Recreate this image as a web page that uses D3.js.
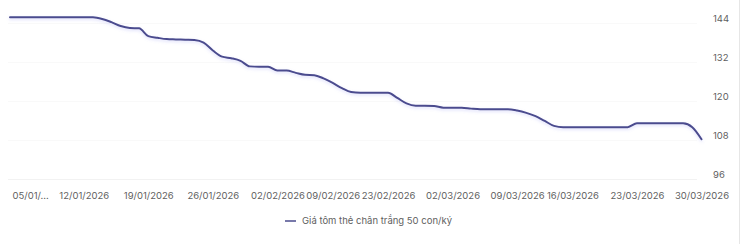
<!DOCTYPE html>
<html>
<head>
<meta charset="utf-8">
<script src="https://cdn.jsdelivr.net/npm/d3@7/dist/d3.min.js"></script>
<style>
  html, body { margin: 0; padding: 0; background: #ffffff; }
  svg { display: block; font-family: Inter, "Noto Sans", sans-serif; }
</style>
</head>
<body>
<svg id="chart" width="743" height="244"></svg>
<script>
// ---- data ----
const dates = [
  "04/01/2026",
  "05/01/2026","06/01/2026","07/01/2026","08/01/2026","09/01/2026","10/01/2026","11/01/2026",
  "12/01/2026","13/01/2026","14/01/2026","15/01/2026","16/01/2026","17/01/2026","18/01/2026",
  "19/01/2026","20/01/2026","21/01/2026","22/01/2026","23/01/2026","24/01/2026","25/01/2026",
  "26/01/2026","27/01/2026","28/01/2026","29/01/2026","30/01/2026","31/01/2026","01/02/2026",
  "02/02/2026","03/02/2026","04/02/2026","05/02/2026","06/02/2026","07/02/2026",
  "09/02/2026","10/02/2026","11/02/2026","12/02/2026","13/02/2026","14/02/2026",
  "23/02/2026","24/02/2026","25/02/2026","26/02/2026","27/02/2026","28/02/2026","01/03/2026",
  "02/03/2026","03/03/2026","04/03/2026","05/03/2026","06/03/2026","07/03/2026","08/03/2026",
  "09/03/2026","10/03/2026","11/03/2026","12/03/2026","13/03/2026","14/03/2026",
  "16/03/2026","17/03/2026","18/03/2026","19/03/2026","20/03/2026","21/03/2026","22/03/2026",
  "23/03/2026","24/03/2026","25/03/2026","26/03/2026","27/03/2026","28/03/2026","29/03/2026",
  "30/03/2026"
];
const prices = [
  145.6,
  145.6,145.6,145.6,145.6,145.6,145.6,145.6,
  145.6,145.6,145.1,144.1,142.9,142.3,142.2,
  139.8,139.3,138.9,138.8,138.7,138.6,137.8,
  135.4,133.5,133.0,132.2,130.5,130.4,130.4,
  129.2,129.2,128.5,127.9,127.8,126.8,
  125.4,123.8,122.6,122.4,122.4,122.4,
  122.4,120.8,119.1,118.4,118.4,118.3,117.8,
  117.8,117.8,117.5,117.3,117.3,117.3,117.3,
  116.9,116.2,115.2,113.7,112.2,111.8,
  111.8,111.8,111.8,111.8,111.8,111.8,111.8,
  113.0,113.0,113.0,113.0,113.0,113.0,111.8,
  108.1
];
const tickDates = ["05/01/2026","12/01/2026","19/01/2026","26/01/2026","02/02/2026","09/02/2026",
  "23/02/2026","02/03/2026","09/03/2026","16/03/2026","23/03/2026","30/03/2026"];
const yTicks = [96, 108, 120, 132, 144];
const seriesName = "Giá tôm thẻ chân trắng 50 con/ký";

// ---- layout ----
const W = 743, H = 244;
const plot = { left: 10, right: 701.5, top: 22.5, bottom: 178.5 };
const lineColor = "#4b4c8e";
const textColor = "#5f5f5f";

const svg = d3.select("#chart");

const x = d3.scalePoint().domain(dates).range([plot.left, plot.right]);
const y = d3.scaleLinear().domain([96, 144]).range([plot.bottom, plot.top]);

// right border
svg.append("line")
  .attr("x1", 739.5).attr("x2", 739.5).attr("y1", 0).attr("y2", H)
  .attr("stroke", "#e6e6e6").attr("stroke-width", 1);

// gridlines
svg.append("g").selectAll("line").data(yTicks).join("line")
  .attr("x1", 8).attr("x2", 697)
  .attr("y1", d => Math.round(y(d)) + 0.5).attr("y2", d => Math.round(y(d)) + 0.5)
  .attr("stroke", d => d === 96 ? "#f2f2f2" : "#f9f9f9")
  .attr("stroke-width", 1);

// y-axis labels (right)
const yAxis = d3.axisRight(y).tickValues(yTicks).tickSize(0).tickPadding(0).tickFormat(d3.format("d"));
const gy = svg.append("g").attr("transform", "translate(713,0)").call(yAxis);
gy.select(".domain").remove();
gy.selectAll("text")
  .attr("fill", textColor).attr("font-size", 9.5)
  .attr("x", 0).attr("dy", null).attr("y", -4)
  .attr("dominant-baseline", "middle")
  .attr("font-family", "Inter, 'Noto Sans', sans-serif");

// x-axis labels
const xAxis = d3.axisBottom(x).tickValues(tickDates).tickSize(0).tickPadding(0);
const gx = svg.append("g").attr("transform", "translate(0,196)").call(xAxis);
gx.select(".domain").remove();
gx.selectAll("text")
  .attr("fill", textColor).attr("font-size", 9.5)
  .attr("dy", null).attr("y", 0)
  .attr("dominant-baseline", "middle")
  .attr("font-family", "Inter, 'Noto Sans', sans-serif");
// first label overflows left edge: truncate and keep inside
gx.selectAll(".tick").each(function(d, i) {
  if (i === 0) {
    const t = d3.select(this).select("text");
    t.text(d.slice(0, 6) + "...");
    const w = t.node().getComputedTextLength();
    const px = x(d);
    if (px - w / 2 < 12) {
      t.attr("text-anchor", "start").attr("x", 12 - px);
    }
  }
});

// line
const defs = svg.append("defs");
const f = defs.append("filter").attr("id", "glow").attr("x", "-5%").attr("y", "-20%").attr("width", "110%").attr("height", "140%");
f.append("feDropShadow").attr("dx", 0).attr("dy", 1.5).attr("stdDeviation", 1.5)
  .attr("flood-color", "#8c8ff0").attr("flood-opacity", 0.3);

const line = d3.line()
  .x((d, i) => x(dates[i]))
  .y(d => y(d))
  .curve(d3.curveMonotoneX);

svg.append("path")
  .datum(prices)
  .attr("d", line)
  .attr("fill", "none")
  .attr("stroke", lineColor)
  .attr("stroke-width", 2)
  .attr("stroke-linejoin", "round")
  .attr("stroke-linecap", "round")
  .attr("filter", "url(#glow)");

// legend
const lg = svg.append("g").attr("transform", "translate(285,221)");
lg.append("line").attr("x1", 0).attr("x2", 11).attr("y1", 0).attr("y2", 0)
  .attr("stroke", lineColor).attr("stroke-width", 1.5);
lg.append("text").attr("x", 17).attr("y", 0)
  .attr("dominant-baseline", "middle")
  .attr("fill", textColor).attr("font-size", 9.5)
  .text(seriesName);
</script>
</body>
</html>
